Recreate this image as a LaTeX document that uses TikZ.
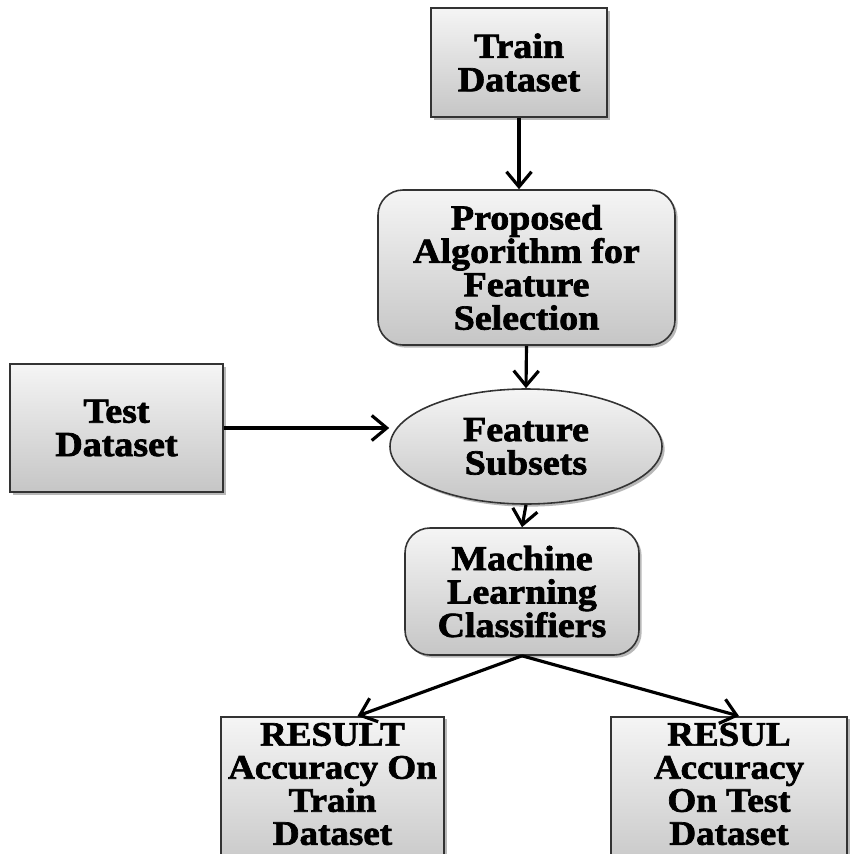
\documentclass[tikz,border=0pt]{standalone}
\usepackage{fontspec}
\setmainfont{Liberation Serif}[BoldFeatures={FakeBold=2,FakeStretch=1.08}]
\usetikzlibrary{arrows.meta,shapes.geometric,shadows}
\begin{document}
\begin{tikzpicture}[
box/.style={draw=black!80,line width=0.9pt,top color=gray!8,bottom color=gray!45,align=center,inner sep=2pt,
 font=\fontsize{20}{19}\selectfont\bfseries,drop shadow={shadow xshift=1.5pt,shadow yshift=-1.5pt,fill=black!55}},
rbox/.style={box,rounded corners=0.5cm},
oval/.style={box,ellipse},
res/.style={box,inner ysep=3.5pt,text depth=0.5cm,anchor=north,font=\fontsize{19.5}{18.8}\selectfont\bfseries},
arr/.style={line width=1.8pt,-{Straight Barb[length=3mm,width=5mm,line width=1.8pt]}}]
\clip(0,0)rectangle(17.06,-17.08);
\fill[white](0,0)rectangle(17.06,-17.08);
\node[box,minimum width=3.52cm,minimum height=2.18cm](train)at(10.38,-1.25){Train\\Dataset};
\node[rbox,minimum width=5.94cm,minimum height=3.1cm](algo)at(10.53,-5.35){Proposed\\Algorithm for\\Feature\\Selection};
\node[box,minimum width=4.26cm,minimum height=2.56cm](test)at(2.33,-8.56){Test\\Dataset};
\node[oval,minimum width=5.44cm,minimum height=2.3cm](subsets)at(10.52,-8.93){Feature\\Subsets};
\node[rbox,minimum width=4.68cm,minimum height=2.54cm](ml)at(10.44,-11.83){Machine\\Learning\\Classifiers};
\node[res,minimum width=4.46cm](resleft)at(6.65,-14.32){RESULT\\Accuracy On\\Train\\Dataset};
\node[res,minimum width=4.72cm](resright)at(14.58,-14.32){RESUL\\Accuracy\\On Test\\Dataset};
\draw[arr](train.south)--(train.south|-algo.north);
\draw[arr](algo.south)--(subsets.north);
\draw[arr](test.east)--(test.east-|subsets.west);
\draw[arr](subsets.south)--(ml.north);
\draw[arr](ml.south)--([xshift=0.5cm]resleft.north);
\draw[arr](ml.south)--([xshift=0.2cm]resright.north);
\end{tikzpicture}
\end{document}
